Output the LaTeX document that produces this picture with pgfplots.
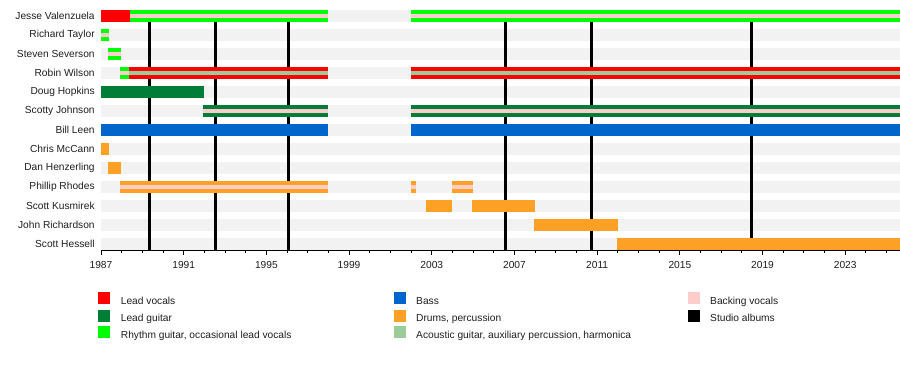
\documentclass[border=0pt]{standalone}
\usepackage{pgfplots}
\pgfplotsset{compat=1.18}
\usepackage{fontspec}
\setmainfont{Liberation Sans}
\definecolor{leadvoc}{RGB}{255,0,0}
\definecolor{leadgtr}{RGB}{0,125,55}
\definecolor{rhythm}{RGB}{0,255,0}
\definecolor{bass}{RGB}{0,102,204}
\definecolor{drums}{RGB}{253,160,38}
\definecolor{acoustic}{RGB}{153,204,153}
\definecolor{backing}{RGB}{255,204,204}
\definecolor{band}{RGB}{242,242,242}
\definecolor{txt}{RGB}{30,30,30}
\pgfplotsset{
  bar/.style={line width=12pt, forget plot},
  stripe/.style={line width=4.2pt, forget plot},
  album/.style={black, line width=3pt, forget plot},
}
\newcommand{\lfont}{\fontsize{10.2}{12}\selectfont}
\begin{document}
\begin{tikzpicture}[x=1pt,y=1pt]
\useasboundingbox (0,0) rectangle (900,370);
\begin{axis}[
  at={(101pt,120pt)}, anchor=south west,
  width=799pt, height=240pt, scale only axis,
  xmin=1987, xmax=2025.65, ymin=-0.32, ymax=12.32,
  axis x line*=bottom, axis y line*=left,
  y axis line style={draw=none},
  x axis line style={black, line width=0.8pt},
  xtick={1987,1991,...,2023},
  minor xtick={1988,...,2025},
  tick align=outside,
  major tick length=5pt, minor tick length=2.5pt,
  xtick style={black, line width=0.8pt},
  ytick={0,...,12},
  ytick style={draw=none},
  yticklabels={Scott Hessell,John Richardson,Scott Kusmirek,Phillip Rhodes,Dan Henzerling,Chris McCann,Bill Leen,Scotty Johnson,Doug Hopkins,Robin Wilson,Steven Severson,Richard Taylor,Jesse Valenzuela},
  tick label style={font=\lfont, text=txt},
  yticklabel style={xshift=2.2pt},
  xticklabel style={yshift=-3pt, /pgf/number format/1000 sep={}, /pgf/number format/assume math mode=true},
]
% background bands
\addplot[bar, band] coordinates {(1987,0) (2025.65,0)};
\addplot[bar, band] coordinates {(1987,1) (2025.65,1)};
\addplot[bar, band] coordinates {(1987,2) (2025.65,2)};
\addplot[bar, band] coordinates {(1987,3) (2025.65,3)};
\addplot[bar, band] coordinates {(1987,4) (2025.65,4)};
\addplot[bar, band] coordinates {(1987,5) (2025.65,5)};
\addplot[bar, band] coordinates {(1987,6) (2025.65,6)};
\addplot[bar, band] coordinates {(1987,7) (2025.65,7)};
\addplot[bar, band] coordinates {(1987,8) (2025.65,8)};
\addplot[bar, band] coordinates {(1987,9) (2025.65,9)};
\addplot[bar, band] coordinates {(1987,10) (2025.65,10)};
\addplot[bar, band] coordinates {(1987,11) (2025.65,11)};
\addplot[bar, band] coordinates {(1987,12) (2025.65,12)};
% studio albums
\addplot[album] coordinates {(1989.37,-0.32) (1989.37,12.32)};
\addplot[album] coordinates {(1992.52,-0.32) (1992.52,12.32)};
\addplot[album] coordinates {(1996.06,-0.32) (1996.06,12.32)};
\addplot[album] coordinates {(2006.58,-0.32) (2006.58,12.32)};
\addplot[album] coordinates {(2010.74,-0.32) (2010.74,12.32)};
\addplot[album] coordinates {(2018.45,-0.32) (2018.45,12.32)};
% Jesse Valenzuela
\addplot[bar, leadvoc] coordinates {(1987,12) (1988.4,12)};
\addplot[bar, rhythm] coordinates {(1988.4,12) (1998,12)};
\addplot[bar, rhythm] coordinates {(2002,12) (2025.65,12)};
\addplot[stripe, backing] coordinates {(1988.4,12) (1998,12)};
\addplot[stripe, backing] coordinates {(2002,12) (2025.65,12)};
% Richard Taylor
\addplot[bar, rhythm] coordinates {(1987,11) (1987.39,11)};
\addplot[stripe, backing] coordinates {(1987,11) (1987.39,11)};
% Steven Severson
\addplot[bar, rhythm] coordinates {(1987.35,10) (1987.97,10)};
\addplot[stripe, backing] coordinates {(1987.35,10) (1987.97,10)};
% Robin Wilson
\addplot[bar, rhythm] coordinates {(1987.92,9) (1988.37,9)};
\addplot[stripe, backing] coordinates {(1987.92,9) (1988.37,9)};
\addplot[bar, leadvoc] coordinates {(1988.37,9) (1998,9)};
\addplot[bar, leadvoc] coordinates {(2002,9) (2025.65,9)};
\addplot[stripe, acoustic] coordinates {(1988.37,9) (1998,9)};
\addplot[stripe, acoustic] coordinates {(2002,9) (2025.65,9)};
% Doug Hopkins
\addplot[bar, leadgtr] coordinates {(1987,8) (1991.98,8)};
% Scotty Johnson
\addplot[bar, leadgtr] coordinates {(1991.95,7) (1998,7)};
\addplot[bar, leadgtr] coordinates {(2002,7) (2025.65,7)};
\addplot[stripe, backing] coordinates {(1991.95,7) (1998,7)};
\addplot[stripe, backing] coordinates {(2002,7) (2025.65,7)};
% Bill Leen
\addplot[bar, bass] coordinates {(1987,6) (1998,6)};
\addplot[bar, bass] coordinates {(2002,6) (2025.65,6)};
% Chris McCann
\addplot[bar, drums] coordinates {(1987,5) (1987.39,5)};
% Dan Henzerling
\addplot[bar, drums] coordinates {(1987.35,4) (1987.97,4)};
% Phillip Rhodes
\addplot[bar, drums] coordinates {(1987.92,3) (1998,3)};
\addplot[bar, drums] coordinates {(2002,3) (2002.24,3)};
\addplot[bar, drums] coordinates {(2003.98,3) (2005.0,3)};
\addplot[stripe, backing] coordinates {(1987.92,3) (1998,3)};
\addplot[stripe, backing] coordinates {(2002,3) (2002.24,3)};
\addplot[stripe, backing] coordinates {(2003.98,3) (2005.0,3)};
% Scott Kusmirek
\addplot[bar, drums] coordinates {(2002.72,2) (2004.0,2)};
\addplot[bar, drums] coordinates {(2004.95,2) (2007.98,2)};
% John Richardson
\addplot[bar, drums] coordinates {(2007.95,1) (2012.0,1)};
% Scott Hessell
\addplot[bar, drums] coordinates {(2011.95,0) (2025.65,0)};
\end{axis}
% legend
\begin{scope}[every node/.style={font=\lfont, text=txt, anchor=base west, inner sep=0pt}]
\fill[leadvoc] (98,65.7) rectangle +(12,12);
\node at (120.7,66) {Lead vocals};
\fill[leadgtr] (98,48.3) rectangle +(12,12);
\node at (120.7,48.6) {Lead guitar};
\fill[rhythm] (98,31.7) rectangle +(12,12);
\node at (120.7,32) {Rhythm guitar, occasional lead vocals};
\fill[bass] (394,65.7) rectangle +(12,12);
\node at (416,66) {Bass};
\fill[drums] (394,48.3) rectangle +(12,12);
\node at (416,48.6) {Drums, percussion};
\fill[acoustic] (394,31.7) rectangle +(12,12);
\node at (416,32) {Acoustic guitar, auxiliary percussion, harmonica};
\fill[backing] (688,65.7) rectangle +(12,12);
\node at (710,66) {Backing vocals};
\fill[black] (688,48.3) rectangle +(12,12);
\node at (710,48.6) {Studio albums};
\end{scope}
\end{tikzpicture}
\end{document}
